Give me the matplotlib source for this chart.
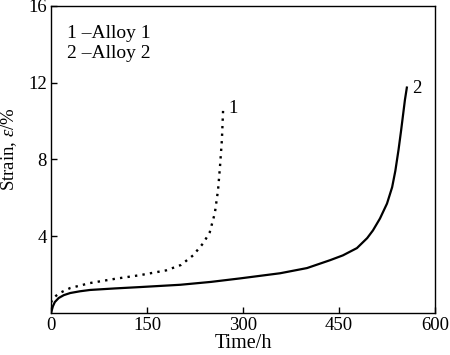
import matplotlib

matplotlib.use("Agg")
import matplotlib.pyplot as plt

# creep curves
time_1 = [0, 3, 8, 14, 30, 61, 100, 139, 180, 203, 222, 238, 248, 256, 261, 264, 267, 269]
strain_1 = [0.55, 0.75, 0.9, 1.05, 1.3, 1.56, 1.78, 1.97, 2.22, 2.5, 3.0, 3.64, 4.2, 5.2, 6.4, 7.6, 9.0, 10.65]

time_2 = [0, 3, 6, 12, 20, 30, 45, 61, 100, 139, 202, 250, 295, 358, 400, 436, 456, 478, 494,
          503, 514, 525, 533, 538, 543, 547, 550, 553, 556]
strain_2 = [0.0, 0.35, 0.57, 0.78, 0.93, 1.04, 1.13, 1.2, 1.28, 1.35, 1.47, 1.62, 1.8, 2.07, 2.34, 2.75, 3.0, 3.38, 3.9,
            4.3, 4.92, 5.7, 6.55, 7.4, 8.5, 9.5, 10.3, 11.1, 11.74]

x_ticks = [0, 150, 300, 450, 600]
y_ticks = [4, 8, 12, 16]
legend_lines = ["1 \u2013Alloy 1", "2 \u2013Alloy 2"]

plt.rcParams["font.family"] = ["Liberation Serif", "DejaVu Serif"]
plt.rcParams["mathtext.fontset"] = "custom"
plt.rcParams["mathtext.it"] = "Liberation Serif:italic"
plt.rcParams["mathtext.rm"] = "Liberation Serif"

fig = plt.figure(figsize=(4.5, 3.55), dpi=100)
ax = fig.add_axes([0.1133, 0.1183, 0.8534, 0.8655])

ax.plot(time_1, strain_1, color="black", linestyle=(0, (1, 2.2)), linewidth=1.7)
ax.plot(time_2, strain_2, color="black", linewidth=1.6)

ax.text(284, 10.65, "1", fontsize=13.5, ha="center", va="center")
ax.text(572, 11.7, "2", fontsize=13.5, ha="center", va="center")

ax.text(0.042, 0.909, legend_lines[0], transform=ax.transAxes, fontsize=14, va="center")
ax.text(0.042, 0.844, legend_lines[1], transform=ax.transAxes, fontsize=14, va="center")

ax.set_xlim(0, 600)
ax.set_ylim(0, 16)
ax.set_xticks(x_ticks)
ax.set_yticks(y_ticks)
ax.tick_params(direction="in", length=4, width=1, labelsize=13.5, pad=3)
for s in ax.spines.values():
    s.set_linewidth(1.0)

ax.set_xlabel("Time/h", fontsize=14.5, labelpad=0)
ax.set_ylabel("Strain, $\\mathit{\\varepsilon}$/%", fontsize=13.5)
ax.yaxis.set_label_coords(-0.082, 0.532)

fig.savefig("out.png", dpi=100)
